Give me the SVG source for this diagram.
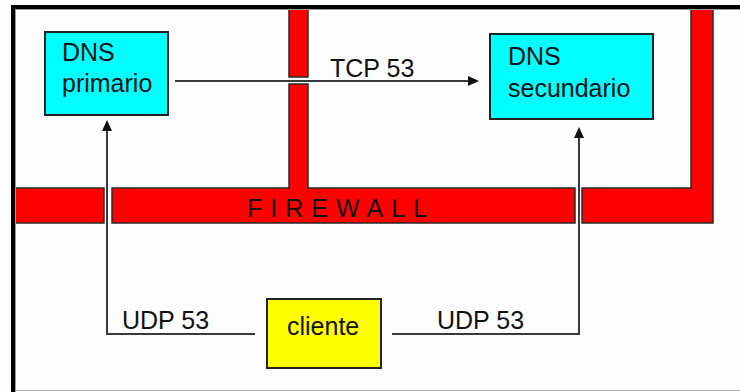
<svg xmlns="http://www.w3.org/2000/svg" width="740" height="392" viewBox="0 0 740 392">
  <style>
    .wall { fill: #ff0000; stroke: #2a2a2a; stroke-width: 1.5; }
    .box { stroke: #222; stroke-width: 2; }
    .label { font-family: "Liberation Sans", Arial, sans-serif; font-size: 25px; fill: #111; }
    .wire { fill: none; stroke: #3a3a3a; stroke-width: 2; }
  </style>
  <defs>
    <marker id="arrow" markerUnits="userSpaceOnUse" markerWidth="12" markerHeight="10" refX="8" refY="5" orient="auto">
      <path d="M0,0 L11,5 L0,10 Z" fill="#111"/>
    </marker>
  </defs>

  <!-- page background -->
  <rect x="0" y="0" width="740" height="392" fill="#fdfdfd"/>

  <!-- firewall -->
  <g id="firewall">
    <rect class="wall" x="12" y="188" width="92" height="35"/>
    <path class="wall" d="M112,188 H289 V84 H308 V188 H575 V223 H112 Z"/>
    <rect class="wall" x="289" y="7" width="19" height="70"/>
    <path class="wall" d="M582,188 H691 V7 H713 V223 H582 Z"/>
    <text class="label" x="247" y="217" letter-spacing="8">FIREWALL</text>
  </g>

  <!-- frame -->
  <g id="frame">
    <rect x="11" y="5" width="729" height="4" fill="#000"/>
    <rect x="11" y="5" width="4" height="387" fill="#000"/>
    <line x1="15" y1="9.5" x2="740" y2="9.5" stroke="#9a9a9a" stroke-width="1"/>
    <line x1="15.5" y1="9" x2="15.5" y2="392" stroke="#9a9a9a" stroke-width="1"/>
    <line x1="15" y1="390.5" x2="740" y2="390.5" stroke="#b0b0b0" stroke-width="1"/>
  </g>

  <!-- connectors -->
  <g id="connectors">
    <path class="wire" d="M175,81 H476" marker-end="url(#arrow)"/>
    <path class="wire" d="M255,334 H107 V123" marker-end="url(#arrow)"/>
    <path class="wire" d="M392,334 H579 V130" marker-end="url(#arrow)"/>
    <text class="label" x="330" y="77">TCP 53</text>
    <text class="label" x="122" y="329">UDP 53</text>
    <text class="label" x="437" y="329">UDP 53</text>
  </g>

  <g id="dns-primario">
    <rect class="box" x="45" y="32" width="123" height="83" fill="#00ffff"/>
    <text class="label" x="62" y="61">DNS</text>
    <text class="label" x="62" y="92">primario</text>
  </g>

  <g id="dns-secundario">
    <rect class="box" x="490" y="34" width="163" height="85" fill="#00ffff"/>
    <text class="label" x="508" y="65">DNS</text>
    <text class="label" x="508" y="97">secundario</text>
  </g>

  <g id="cliente">
    <rect class="box" x="267" y="299" width="114" height="69" fill="#ffff00"/>
    <text class="label" x="287" y="335">cliente</text>
  </g>
</svg>
